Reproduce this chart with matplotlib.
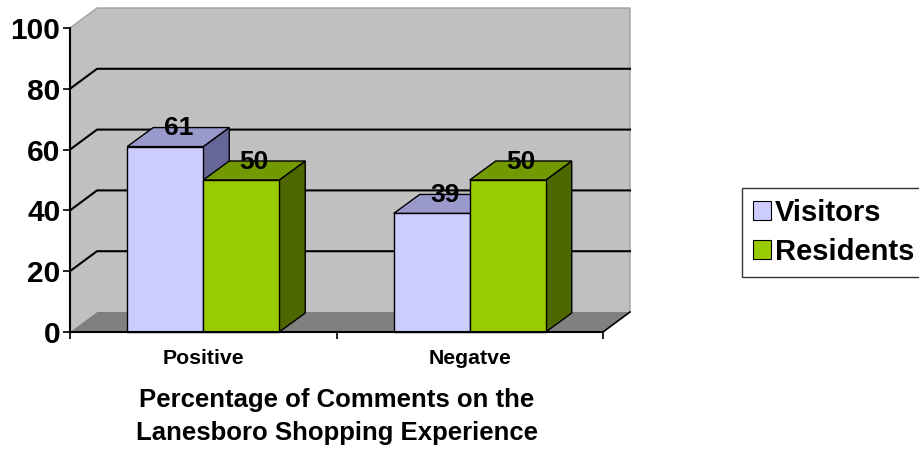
import matplotlib
matplotlib.use("Agg")
import matplotlib.pyplot as plt
from matplotlib.patches import Polygon, Rectangle, Patch

plt.rcParams['font.family'] = ['Liberation Sans', 'DejaVu Sans']
plt.rcParams['font.weight'] = 'bold'

categories = ["Positive", "Negatve"]
series_names = ["Visitors", "Residents"]
visitors = [61, 39]
residents = [50, 50]
yticks = [0, 20, 40, 60, 80, 100]
xlabel_lines = ["Percentage of Comments on the", "Lanesboro Shopping Experience"]

front_cols = ["#CCCCFF", "#99CC00"]
top_cols = ["#9999CC", "#739900"]
side_cols = ["#666699", "#4D6600"]

W, H = 920, 450
fig = plt.figure(figsize=(W / 100, H / 100), dpi=100)
ax_l, ax_r, ax_t, ax_b = 70, 603, 28, 332
ax = fig.add_axes([ax_l / W, 1 - ax_b / H, (ax_r - ax_l) / W, (ax_b - ax_t) / H])
ax.set_xlim(0, len(categories))
ax.set_ylim(0, 100)
ax.set_facecolor('none')

# pixel -> data conversion
sx = len(categories) / (ax_r - ax_l)
sy = 100 / (ax_b - ax_t)
WDX, WDY = 27 * sx, 20 * sy      # wall depth
BDX, BDY = 26 * sx, 19 * sy      # bar depth
ncat = len(categories)

# walls
ax.add_patch(Polygon([(0, 0), (0, 100), (WDX, 100 + WDY), (WDX, WDY)],
                     closed=True, facecolor="#C0C0C0", edgecolor="none", clip_on=False, zorder=0))
ax.add_patch(Rectangle((WDX, WDY), ncat, 100, facecolor="#C0C0C0", edgecolor="none",
                       clip_on=False, zorder=0))
ax.plot([0, WDX, ncat + WDX, ncat + WDX], [100, 100 + WDY, 100 + WDY, WDY],
        color="#A0A0A0", lw=1.0, clip_on=False, zorder=0.5)
# floor
ax.add_patch(Polygon([(0, 0), (ncat, 0), (ncat + WDX, WDY), (WDX, WDY)],
                     closed=True, facecolor="#808080", edgecolor="none", clip_on=False, zorder=0.6))
ax.plot([ncat, ncat + WDX], [0, WDY], color="black", lw=1.2, clip_on=False, zorder=0.7)

# gridlines
for v in yticks[1:-1]:
    ax.plot([0, WDX, ncat + WDX], [v, v + WDY, v + WDY], color="black", lw=1.5,
            clip_on=False, zorder=0.8)

# bars
bw = 76 * sx
for i in range(ncat):
    c = i + 0.5
    for s, vals in enumerate([visitors, residents]):
        v = vals[i]
        x0 = c - bw + s * bw
        x1 = x0 + bw
        ax.add_patch(Polygon([(x1, 0), (x1, v), (x1 + BDX, v + BDY), (x1 + BDX, BDY)],
                             closed=True, facecolor=side_cols[s], edgecolor="black", lw=1,
                             clip_on=False, zorder=2 + s))
        ax.add_patch(Polygon([(x0, v), (x1, v), (x1 + BDX, v + BDY), (x0 + BDX, v + BDY)],
                             closed=True, facecolor=top_cols[s], edgecolor="black", lw=1,
                             clip_on=False, zorder=2 + s))
        ax.add_patch(Rectangle((x0, 0), bw, v, facecolor=front_cols[s], edgecolor="black",
                               lw=1, clip_on=False, zorder=2 + s))
for i in range(ncat):
    c = i + 0.5
    for s, vals in enumerate([visitors, residents]):
        v = vals[i]
        x0 = c - bw + s * bw
        ax.text(x0 + bw / 2 + BDX / 2, v + BDY / 2 - 1.0, str(v), ha='center', va='bottom',
                fontsize=19, fontweight='bold', zorder=10)

# axes
for sp in ['top', 'right']:
    ax.spines[sp].set_visible(False)
ax.spines['left'].set_linewidth(1.5)
ax.spines['bottom'].set_linewidth(1.5)
ax.spines['left'].set_zorder(5)
ax.spines['bottom'].set_zorder(5)
ax.set_yticks(yticks)
ax.set_yticklabels([str(t) for t in yticks], fontsize=21.5, fontweight='bold')
ax.tick_params(axis='y', direction='out', length=5, width=1.2, pad=2)
ax.set_xticks(list(range(ncat + 1)))
ax.set_xticklabels([])
ax.tick_params(axis='x', which='major', direction='out', length=5, width=1.2)
ax.set_xticks([i + 0.5 for i in range(ncat)], minor=True)
ax.set_xticklabels(categories, minor=True, fontsize=15.3, fontweight='bold')
ax.tick_params(axis='x', which='minor', length=0, pad=12)

# axis title
cx = ((ax_l + ax_r) / 2) / W
fig.text(cx, 1 - 407 / H, xlabel_lines[0], ha='center', va='baseline', fontsize=18.5, fontweight='bold')
fig.text(cx, 1 - 440 / H, xlabel_lines[1], ha='center', va='baseline', fontsize=18.5, fontweight='bold')

# legend
handles = [Patch(facecolor=front_cols[s], edgecolor='black', lw=0.8) for s in range(2)]
leg = fig.legend(handles, series_names, loc='upper left', bbox_to_anchor=(742 / W, 1 - 188 / H),
                 prop={'size': 21, 'weight': 'bold'}, frameon=True, fancybox=False,
                 handlelength=0.62, handleheight=0.62, handletextpad=0.12,
                 labelspacing=0.36, borderpad=0.38, borderaxespad=0)
leg.get_frame().set_edgecolor('black')
leg.get_frame().set_linewidth(1.0)

fig.savefig("out.png", dpi=100)
